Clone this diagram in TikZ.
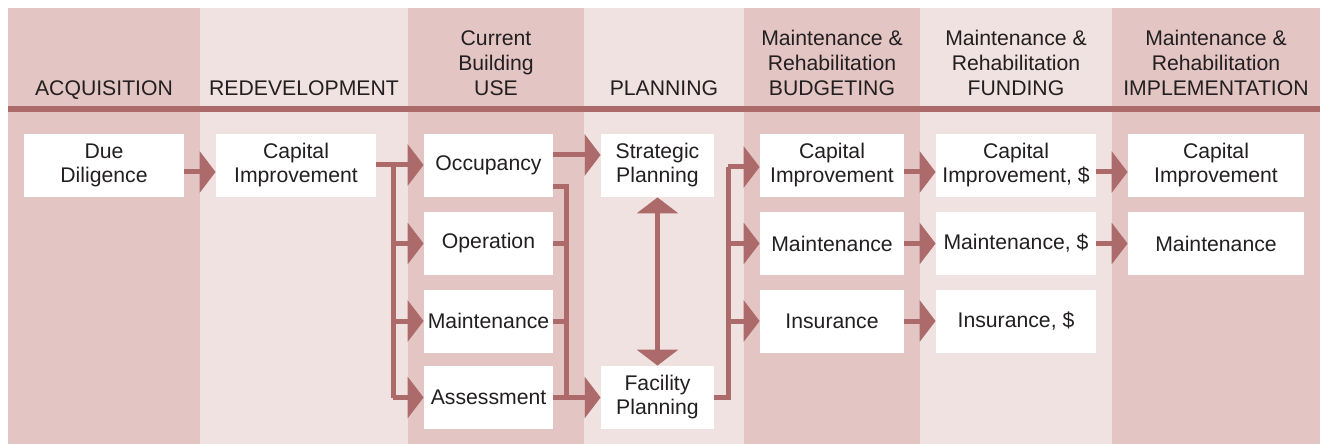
\documentclass[tikz,border=0pt]{standalone}
\usepackage{fontspec}
\setmainfont{Liberation Sans}
\usepackage{tikz}
\usetikzlibrary{arrows.meta}
\usetikzlibrary{positioning}
\definecolor{colDark}{HTML}{E3C6C4}
\definecolor{colLight}{HTML}{F0E2E1}
\definecolor{flowRed}{HTML}{AD6A6A}
\definecolor{txtGray}{HTML}{231F20}
\tikzset{
    box/.style={
      rectangle,
      fill=white,
      inner sep=0pt,
      minimum height=31.5pt,
      align=center,
      text=txtGray,
      font=\fontsize{10.6}{12}\selectfont,
    },
    heading/.style={
      anchor=south,
      inner sep=0pt,
      text depth=0pt,
      align=center,
      text=txtGray,
      font=\fontsize{10.6}{12.5}\selectfont,
    },
    line/.style={draw=flowRed, line width=2.5pt},
    flow/.style={line, -{Triangle[length=8pt,width=20.5pt]}},
    flowboth/.style={line, {Triangle[length=8pt,width=20.5pt]}-{Triangle[length=8pt,width=20.5pt]}},
}

\begin{document}
\begin{tikzpicture}[x=0.5pt,y=-0.5pt]

    \useasboundingbox (0,0) rectangle (1324,444);

    % column bands
    \fill[colDark]  (8,8)    rectangle (200,444);
    \fill[colLight] (200,8)  rectangle (408,444);
    \fill[colDark]  (408,8)  rectangle (584,444);
    \fill[colLight] (584,8)  rectangle (744,444);
    \fill[colDark]  (744,8)  rectangle (920,444);
    \fill[colLight] (920,8)  rectangle (1112,444);
    \fill[colDark]  (1112,8) rectangle (1320,444);
    \fill[flowRed]  (8,106)  rectangle (1320,112.5);

    % headings
    \node[heading] (hAcq) at (104,95.5) {ACQUISITION};
    \node[heading] (hRed) at (304,95.5) {REDEVELOPMENT};
    \node[heading] (hUse) at (496,95.5) {Current\\Building\\USE};
    \node[heading] (hPla) at (664,95.5) {PLANNING};
    \node[heading] (hBud) at (832,95.5) {Maintenance \&\\Rehabilitation\\BUDGETING};
    \node[heading] (hFun) at (1016,95.5) {Maintenance \&\\Rehabilitation\\FUNDING};
    \node[heading] (hImp) at (1216,95.5) {Maintenance \&\\Rehabilitation\\IMPLEMENTATION};

    % boxes
    \node[box, minimum width=80pt] (dd) at (104,165.5) {Due\\Diligence};
    \node[box, minimum width=80pt] (rci) at (296,165.5) {Capital\\Improvement};

    \node[box, minimum width=64.5pt] (occ) at (488.5,165.5) {Occupancy};
    \node[box, minimum width=64.5pt] (opr) at (488.5,243.5) {Operation};
    \node[box, minimum width=64.5pt] (umnt) at (488.5,321) {Maintenance};
    \node[box, minimum width=64.5pt] (asm) at (488.5,397.5) {Assessment};

    \node[box, minimum width=56.5pt] (sp) at (657.5,165.5) {Strategic\\Planning};
    \node[box, minimum width=56.5pt] (fp) at (657.5,397.5) {Facility\\Planning};

    \node[box, minimum width=72pt] (bci) at (832,165.5) {Capital\\Improvement};
    \node[box, minimum width=72pt] (bmnt) at (832,243.5) {Maintenance};
    \node[box, minimum width=72pt] (bins) at (832,321) {Insurance};

    \node[box, minimum width=80pt] (fci) at (1016,165.5) {Capital\\Improvement, \$};
    \node[box, minimum width=80pt] (fmnt) at (1016,243.5) {Maintenance, \$};
    \node[box, minimum width=80pt] (fins) at (1016,321) {Insurance, \$};

    \node[box, minimum width=88pt] (ici) at (1216,165.5) {Capital\\Improvement};
    \node[box, minimum width=88pt] (imnt) at (1216,243.5) {Maintenance};

    % connectors
    \coordinate (split1) at (393,165);
    \coordinate (merge1) at (566,187);
    \coordinate (split2) at (728,167);

    \draw[flow] (dd.east |- 0,172) -- (rci.west |- 0,172);

    \draw[line] (rci.east |- split1) -- (split1) -- (split1 |- asm.west);
    \draw[flow] (split1) -- (occ.west |- split1);
    \foreach \n in {opr,umnt,asm}
      \draw[flow] (split1 |- \n.west) -- (\n.west);

    \draw[flow] (occ.east |- 0,155) -- (sp.west |- 0,155);
    \draw[line] (occ.east |- merge1) -- (merge1) -- (merge1 |- asm.east);
    \foreach \n in {opr,umnt}
      \draw[line] (\n.east) -- (merge1 |- \n.east);
    \draw[flow] (asm.east) -- (fp.west);

    \draw[flowboth] (sp.south) -- (fp.north);

    \draw[line] (fp.east) -- (split2 |- fp.east) -- (split2);
    \draw[flow] (split2) -- (bci.west |- split2);
    \foreach \n in {bmnt,bins}
      \draw[flow] (split2 |- \n.west) -- (\n.west);

    \draw[flow] (bci.east |- 0,172) -- (fci.west |- 0,172);
    \draw[flow] (bmnt.east) -- (fmnt.west);
    \draw[flow] (bins.east) -- (fins.west);

    \draw[flow] (fci.east |- 0,172) -- (ici.west |- 0,172);
    \draw[flow] (fmnt.east) -- (imnt.west);

\end{tikzpicture}
\end{document}
